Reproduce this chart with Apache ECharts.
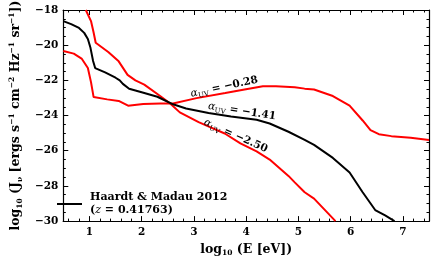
<!DOCTYPE html>
<html>
<head>
<meta charset="utf-8">
<script src="https://cdn.jsdelivr.net/npm/echarts@6/dist/echarts.min.js"></script>
<style>
html,body{margin:0;padding:0;background:#fff;}
#chart{width:443px;height:262px;}
</style>
</head>
<body>
<div id="chart"></div>
<script>
// ---- data ----
const xMajorTicks = [1, 2, 3, 4, 5, 6, 7];
const xMinorTicks = [0.6, 0.8, 1.2, 1.4, 1.6, 1.8, 2.2, 2.4, 2.6, 2.8, 3.2, 3.4, 3.6, 3.8,
  4.2, 4.4, 4.6, 4.8, 5.2, 5.4, 5.6, 5.8, 6.2, 6.4, 6.6, 6.8, 7.2, 7.4];

// alpha_UV = -1.41 (black)
const blackX = [0.5, 0.65, 0.80, 0.90, 0.97, 1.02, 1.07, 1.11, 1.30, 1.50, 1.58, 1.64, 1.76, 2.0, 2.30,
  2.60, 2.85, 3.28, 3.71, 4.20, 4.45, 4.81, 5.12, 5.30, 5.66, 5.98, 6.23, 6.47, 6.66, 6.84];
const blackY = [-18.63, -18.8, -19.02, -19.3, -19.65, -20.15, -20.9, -21.3, -21.55, -21.85, -22.0, -22.2, -22.48, -22.68, -22.93,
  -23.36, -23.60, -23.86, -24.06, -24.24, -24.45, -24.92, -25.38, -25.67, -26.41, -27.24, -28.36, -29.37, -29.68, -30.0];

// alpha_UV = -2.50 (red, steep)
const steepX = [0.93, 1.03, 1.08, 1.12, 1.36, 1.56, 1.73, 1.88, 2.05, 2.36, 2.54, 2.73, 3.09, 3.59, 3.89,
  4.20, 4.45, 4.81, 4.93, 5.12, 5.30, 5.71];
const steepY = [-18.0, -18.63, -19.28, -19.86, -20.39, -20.92, -21.69, -22.0, -22.24, -22.9, -23.3, -23.82, -24.37, -25.02, -25.58,
  -26.04, -26.5, -27.43, -27.8, -28.36, -28.72, -30.0];

// alpha_UV = -0.28 (red, flat)
const flatX = [0.5, 0.7, 0.85, 0.97, 1.03, 1.08, 1.10, 1.34, 1.56, 1.74, 2.03, 2.36, 2.60, 3.05, 3.60, 3.97,
  4.32, 4.57, 4.93, 5.12, 5.30, 5.66, 5.98, 6.23, 6.38, 6.54, 6.78, 7.15, 7.5];
const flatY = [-20.33, -20.48, -20.76, -21.3, -22.1, -22.95, -23.0, -23.08, -23.17, -23.44, -23.34, -23.32, -23.31, -23.01, -22.72, -22.52,
  -22.34, -22.33, -22.39, -22.47, -22.52, -22.89, -23.44, -24.28, -24.83, -25.06, -25.17, -25.26, -25.39];

const labels = [
  {text: '-0.28', x: 3.58, y: -22.37, rot: 12},
  {text: '-1.41', x: 3.92, y: -23.76, rot: -9},
  {text: '-2.50', x: 3.80, y: -25.15, rot: -24}
];

const zip = (xs, ys) => xs.map((x, i) => [x, ys[i]]);
const SERIF = "'DejaVu Serif', 'Liberation Serif', serif";

const chart = echarts.init(document.getElementById('chart'), null, {renderer: 'canvas'});

const axisLine = {show: true, lineStyle: {color: '#000', width: 1.2}};
function xAx(pos, ticks, len, withLabel) {
  const a = {
    type: 'value', min: 0.5, max: 7.5, position: pos,
    axisLine: axisLine,
    axisTick: {show: true, inside: true, length: len, customValues: ticks, lineStyle: {color: '#000', width: 1}},
    axisLabel: {show: false},
    splitLine: {show: false}
  };
  if (withLabel) {
    a.axisLabel = {show: true, customValues: ticks, margin: 6, color: '#000',
      fontFamily: SERIF, fontWeight: 'bold', fontSize: 10.5};
    a.name = '{t|log}{s|10}{t| (E [eV])}';
    a.nameLocation = 'middle';
    a.nameGap = 18;
    a.nameTextStyle = {color: '#000', rich: {
      t: {fontFamily: SERIF, fontWeight: 'bold', fontSize: 12.5, lineHeight: 15},
      s: {fontFamily: SERIF, fontWeight: 'bold', fontSize: 7.5, lineHeight: 8, verticalAlign: 'bottom'}
    }};
  }
  return a;
}
function yAx(pos, withLabel) {
  const a = {
    type: 'value', min: -30, max: -18, interval: 2, position: pos,
    axisLine: axisLine,
    axisTick: {show: true, inside: true, length: 5, lineStyle: {color: '#000', width: 1}},
    minorTick: {show: true, splitNumber: 4, length: 2.5, lineStyle: {color: '#000', width: 1}},
    axisLabel: {show: false},
    splitLine: {show: false}, minorSplitLine: {show: false}
  };
  if (withLabel) {
    a.axisLabel = {show: true, margin: 5, color: '#000', fontFamily: SERIF, fontWeight: 'bold', fontSize: 10.5,
      formatter: v => String(v).replace('-', '\u2212')};
    a.name = '{t|log}{s|10}{t| (J}{s|\u03bd}{t| [ergs s}{p|\u22121}{t| cm}{p|\u22122}{t| Hz}{p|\u22121}{t| sr}{p|\u22121}{t|])}';
    a.nameLocation = 'middle';
    a.nameGap = 35;
    a.nameTextStyle = {color: '#000', rich: {
      t: {fontFamily: SERIF, fontWeight: 'bold', fontSize: 12.5, lineHeight: 16},
      s: {fontFamily: SERIF, fontWeight: 'bold', fontSize: 7.5, lineHeight: 8, verticalAlign: 'bottom'},
      p: {fontFamily: SERIF, fontWeight: 'bold', fontSize: 7.5, lineHeight: 8, verticalAlign: 'top'}
    }};
  }
  return a;
}

const option = {
  animation: false,
  backgroundColor: '#fff',
  grid: {left: 49, right: 14, top: 10, bottom: 36, containLabel: false},
  xAxis: [
    xAx('bottom', xMajorTicks, 5, true),
    xAx('bottom', xMinorTicks, 2.5, false),
    xAx('top', xMajorTicks, 5, false),
    xAx('top', xMinorTicks, 2.5, false)
  ],
  yAxis: [yAx('left', true), yAx('right', false)],
  legend: {
    data: ['Haardt & Madau 2012'],
    left: 57, top: 192, padding: 0,
    icon: 'rect', itemWidth: 25, itemHeight: 2,
    formatter: () => '{a|Haardt & Madau 2012}\n{b|(}{i|z}{b| = 0.41763)}',
    textStyle: {color: '#000', padding: [0, 0, 0, 3], rich: {
      a: {fontFamily: SERIF, fontWeight: 'bold', fontSize: 11, lineHeight: 13},
      b: {fontFamily: SERIF, fontWeight: 'bold', fontSize: 11, lineHeight: 13},
      i: {fontFamily: SERIF, fontStyle: 'italic', fontSize: 11, lineHeight: 13}
    }}
  },
  series: [
    {name: 'alpha -2.50', type: 'line', data: zip(steepX, steepY), showSymbol: false, symbol: 'none',
      lineStyle: {color: '#ff0000', width: 2}, itemStyle: {color: '#ff0000'}, clip: true, z: 2},
    {name: 'alpha -0.28', type: 'line', data: zip(flatX, flatY), showSymbol: false, symbol: 'none',
      lineStyle: {color: '#ff0000', width: 2}, itemStyle: {color: '#ff0000'}, clip: true, z: 2},
    {name: 'Haardt & Madau 2012', type: 'line', data: zip(blackX, blackY), showSymbol: false, symbol: 'none',
      lineStyle: {color: '#000', width: 2}, itemStyle: {color: '#000'}, clip: true, z: 3}
  ]
};
chart.setOption(option);

const graphics = labels.map(l => {
  const p = chart.convertToPixel({xAxisIndex: 0, yAxisIndex: 0}, [l.x, l.y]);
  return {
    type: 'text', x: p[0], y: p[1], rotation: l.rot * Math.PI / 180, z: 10,
    style: {
      text: '{a|\u03b1}{s|UV}{b| = ' + l.text.replace('-', '\u2212') + '}',
      align: 'center', verticalAlign: 'middle',
      rich: {
        a: {fontFamily: SERIF, fontStyle: 'italic', fontSize: 10.5, lineHeight: 14, fill: '#000'},
        s: {fontFamily: SERIF, fontSize: 7, lineHeight: 8, verticalAlign: 'bottom', fill: '#000'},
        b: {fontFamily: SERIF, fontWeight: 'bold', fontSize: 10.5, lineHeight: 14, fill: '#000'}
      }
    }
  };
});
chart.setOption({graphic: graphics});
</script>
</body>
</html>
